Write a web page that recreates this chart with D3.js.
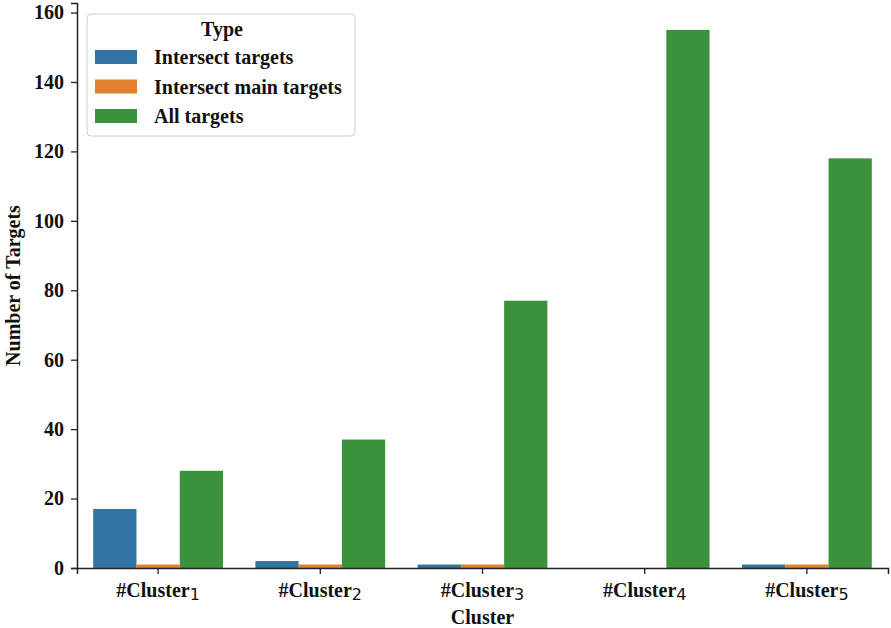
<!DOCTYPE html>
<html lang="en">
<head>
  <meta charset="UTF-8" />
  <title>Targets per cluster</title>
  <script src="https://d3js.org/d3.v7.min.js"></script>
  <style>
    body { margin: 0; background: #fff; }
    svg { display: block; }
    text { font-family: "Liberation Serif", "Times New Roman", serif; font-weight: bold; fill: #111; }
    .sub { font-family: "DejaVu Sans", sans-serif; font-weight: normal; }
  </style>
</head>
<body>
  <svg width="891" height="628"></svg>
  <script>
    const clusters = ["1", "2", "3", "4", "5"];
    const types = ["Intersect targets", "Intersect main targets", "All targets"];
    const intersectTargets = [17, 2, 1, 0, 1];
    const intersectMain = [1, 1, 1, 0, 1];
    const allTargets = [28, 37, 77, 155, 118];
    const yTicks = [0, 20, 40, 60, 80, 100, 120, 140, 160];
    const colors = ["#3274a1", "#e1812c", "#3a923a"];

    const series = [intersectTargets, intersectMain, allTargets];

    const svg = d3.select("svg");
    const mLeft = 77, mRight = 888, mTop = 3, mBottom = 568;

    const x = d3.scaleBand().domain(clusters).range([mLeft, mRight]).padding(0);
    const inner = d3.scaleBand().domain(d3.range(types.length))
      .range([0, x.bandwidth() * 0.8]);
    const y = d3.scaleLinear().domain([0, 162.75]).range([mBottom, mTop]);

    // bars
    const rows = [];
    clusters.forEach((c, i) => {
      series.forEach((s, j) => rows.push({ c, j, v: s[i] }));
    });
    svg.append("g").selectAll("rect")
      .data(rows)
      .join("rect")
      .attr("x", d => x(d.c) + x.bandwidth() * 0.1 + inner(d.j))
      .attr("width", inner.bandwidth())
      .attr("y", d => y(d.v))
      .attr("height", d => y(0) - y(d.v))
      .attr("fill", d => colors[d.j]);

    // y axis
    const yAxis = svg.append("g")
      .attr("transform", `translate(${mLeft},0)`)
      .call(d3.axisLeft(y).tickValues(yTicks).tickSize(6).tickPadding(7));
    yAxis.select(".domain").attr("stroke", "#222").attr("stroke-width", 1.5);
    yAxis.selectAll(".tick line").attr("stroke", "#222").attr("stroke-width", 1.3);
    yAxis.selectAll("text").style("font-size", "20px").attr("fill", "#111");

    // x axis
    const xAxis = svg.append("g")
      .attr("transform", `translate(0,${mBottom})`)
      .call(d3.axisBottom(x).tickSize(6).tickPadding(9).tickFormat(""));
    xAxis.select(".domain").attr("stroke", "#222").attr("stroke-width", 1.5);
    xAxis.selectAll(".tick line").attr("stroke", "#222").attr("stroke-width", 1.3);
    xAxis.selectAll(".tick text").each(function (d) {
      const t = d3.select(this).style("font-size", "20px").attr("fill", "#111");
      t.append("tspan").text("#Cluster");
      t.append("tspan").attr("class", "sub").attr("dy", 3).style("font-size", "16px").text(d);
    });

    // axis titles
    svg.append("text")
      .attr("x", (mLeft + mRight) / 2)
      .attr("y", 624)
      .attr("text-anchor", "middle")
      .style("font-size", "20px")
      .text("Cluster");
    svg.append("text")
      .attr("transform", `translate(20,${(mTop + mBottom) / 2}) rotate(-90)`)
      .attr("text-anchor", "middle")
      .style("font-size", "20px")
      .text("Number of Targets");

    // legend
    const lg = svg.append("g").attr("transform", "translate(87,14)");
    lg.append("rect")
      .attr("width", 268).attr("height", 122)
      .attr("rx", 4)
      .attr("fill", "#fff").attr("fill-opacity", 0.85)
      .attr("stroke", "#ccc");
    lg.append("text")
      .attr("x", 135).attr("y", 22)
      .attr("text-anchor", "middle")
      .style("font-size", "20px")
      .text("Type");
    const item = lg.selectAll("g.item")
      .data(types)
      .join("g")
      .attr("class", "item")
      .attr("transform", (d, i) => `translate(8,${43 + i * 29.5})`);
    item.append("rect")
      .attr("y", -7).attr("width", 42).attr("height", 14)
      .attr("fill", (d, i) => colors[i]);
    item.append("text")
      .attr("x", 59).attr("y", 7)
      .style("font-size", "20px")
      .text(d => d);
  </script>
</body>
</html>
